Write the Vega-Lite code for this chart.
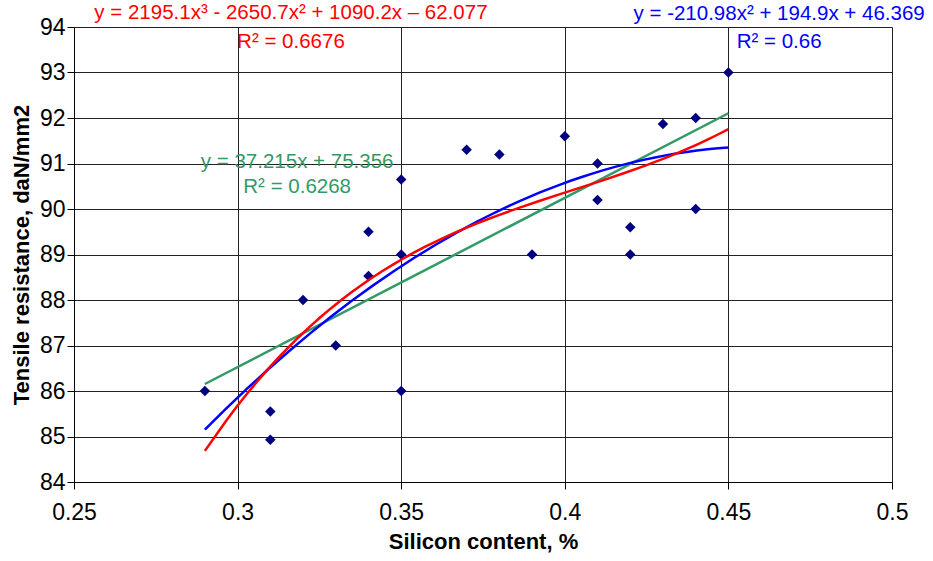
{
  "$schema": "https://vega.github.io/schema/vega-lite/v6.json",
  "width": 818,
  "height": 455,
  "autosize": {"type": "none"},
  "padding": {"left": 74, "top": 27, "right": 41, "bottom": 79},
  "background": "white",
  "config": {
    "view": {"stroke": null},
    "font": "Liberation Sans",
    "axis": {
      "gridColor": "#222222", "gridOpacity": 1, "gridWidth": 1,
      "domainColor": "#000000", "tickColor": "#000000", "tickSize": 7,
      "labelFont": "Liberation Sans", "labelFontSize": 23, "labelColor": "#000000",
      "titleFont": "Liberation Sans", "titleFontSize": 22, "titleFontWeight": "bold", "titleColor": "#000000"
    }
  },
  "datasets": {
    "pts": [
      {"si": 0.29, "ts": 86.0},
      {"si": 0.31, "ts": 85.55},
      {"si": 0.31, "ts": 84.93},
      {"si": 0.32, "ts": 88.0},
      {"si": 0.33, "ts": 87.0},
      {"si": 0.34, "ts": 89.5},
      {"si": 0.34, "ts": 88.53},
      {"si": 0.35, "ts": 90.65},
      {"si": 0.35, "ts": 89.0},
      {"si": 0.35, "ts": 86.0},
      {"si": 0.37, "ts": 91.3},
      {"si": 0.38, "ts": 91.2},
      {"si": 0.39, "ts": 89.0},
      {"si": 0.40, "ts": 91.6},
      {"si": 0.41, "ts": 91.0},
      {"si": 0.41, "ts": 90.2},
      {"si": 0.42, "ts": 89.6},
      {"si": 0.42, "ts": 89.0},
      {"si": 0.43, "ts": 91.87},
      {"si": 0.44, "ts": 92.0},
      {"si": 0.44, "ts": 90.0},
      {"si": 0.45, "ts": 93.0}
    ],
    "labels": [
      {"series": "cubic", "lx": 0.3163, "ly": 94.31, "label": "y = 2195.1x³ - 2650.7x² + 1090.2x – 62.077"},
      {"series": "cubic", "lx": 0.3163, "ly": 93.67, "label": "R² = 0.6676"},
      {"series": "quadratic", "lx": 0.4655, "ly": 94.29, "label": "y = -210.98x² + 194.9x + 46.369"},
      {"series": "quadratic", "lx": 0.4655, "ly": 93.67, "label": "R² = 0.66"},
      {"series": "linear", "lx": 0.3182, "ly": 91.03, "label": "y = 37.215x + 75.356"},
      {"series": "linear", "lx": 0.3182, "ly": 90.48, "label": "R² = 0.6268"}
    ]
  },
  "layer": [
    {
      "data": {"name": "pts"},
      "mark": {"type": "point", "shape": "diamond", "filled": true, "size": 110, "opacity": 1},
      "encoding": {
        "x": {"field": "si", "type": "quantitative", "scale": {"domain": [0.25, 0.5], "nice": false, "zero": false},
              "axis": {"values": [0.25, 0.3, 0.35, 0.4, 0.45, 0.5], "format": "~g", "title": "Silicon content, %", "labelFlush": false, "labelPadding": 12, "titlePadding": 7, "grid": true}},
        "y": {"field": "ts", "type": "quantitative", "scale": {"domain": [84, 94], "nice": false, "zero": false},
              "axis": {"values": [84, 85, 86, 87, 88, 89, 90, 91, 92, 93, 94], "title": "Tensile resistance, daN/mm2", "labelFlush": false, "labelPadding": 2, "titlePadding": 6, "grid": true}},
        "color": {"value": "#000080"}
      }
    },
    {
      "data": {"name": "pts"},
      "transform": [{"regression": "ts", "on": "si", "method": "linear", "extent": [0.29, 0.45]}],
      "mark": {"type": "line", "strokeWidth": 2.5, "color": "#339966"},
      "encoding": {"x": {"field": "si", "type": "quantitative"}, "y": {"field": "ts", "type": "quantitative"}}
    },
    {
      "data": {"name": "pts"},
      "transform": [{"regression": "ts", "on": "si", "method": "poly", "order": 2, "extent": [0.29, 0.45]}],
      "mark": {"type": "line", "strokeWidth": 2.5, "color": "#0000FF"},
      "encoding": {"x": {"field": "si", "type": "quantitative"}, "y": {"field": "ts", "type": "quantitative"}}
    },
    {
      "data": {"name": "pts"},
      "transform": [{"regression": "ts", "on": "si", "method": "poly", "order": 3, "extent": [0.29, 0.45]}],
      "mark": {"type": "line", "strokeWidth": 2.5, "color": "#FF0000"},
      "encoding": {"x": {"field": "si", "type": "quantitative"}, "y": {"field": "ts", "type": "quantitative"}}
    },
    {
      "data": {"name": "labels"},
      "mark": {"type": "text", "fontSize": 20.5, "font": "Liberation Sans", "align": "center", "baseline": "middle"},
      "encoding": {
        "x": {"field": "lx", "type": "quantitative"},
        "y": {"field": "ly", "type": "quantitative"},
        "text": {"field": "label"},
        "color": {"field": "series", "type": "nominal", "scale": {"domain": ["cubic", "quadratic", "linear"], "range": ["#FF0000", "#0000FF", "#339966"]}, "legend": null}
      }
    }
  ]
}
